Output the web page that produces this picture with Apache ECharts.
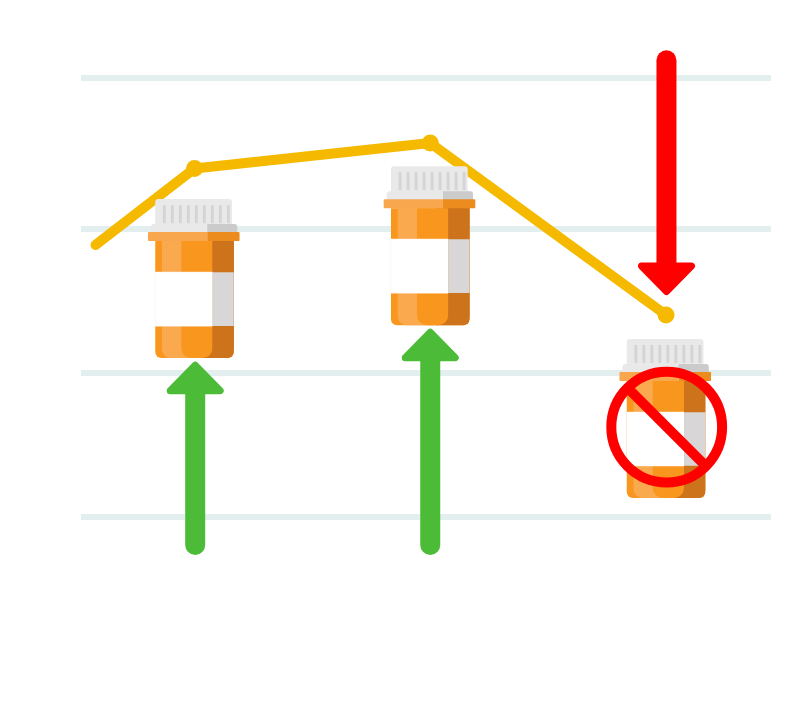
<!DOCTYPE html>
<html>
<head>
<meta charset="utf-8">
<style>html,body{margin:0;padding:0;background:#fff}#c{width:800px;height:701px}</style>
<script src="https://cdn.jsdelivr.net/npm/echarts@6/dist/echarts.min.js"></script>
</head>
<body>
<div id="c"></div>
<script>
const gridValues = [0, 100, 200, 305];
const lineX = [-0.42, 0, 1, 2];
const lineY = [189, 242.1, 259.9, 140.3];
const bottleX = [0, 1, 2];
const bottleBase = [110.4, 133.3, 13.2];
const upArrowX = [0.003, 1];
const upArrowTail = [-26.4, -26.4];
const upArrowTip = [108.6, 131.5];
const downArrowX = [2.002];
const downArrowTail = [324.2];
const downArrowTip = [153.5];
const bannedX = [2.003];
const bannedY = [62.5];

const rect = (x, y, w, h, fill, r) => ({
  type: 'rect',
  shape: { x, y, width: w, height: h, r: r || 0 },
  style: { fill }
});

function bottle(params, api) {
  const p = api.coord([api.value(0), api.value(1)]);
  const x = p[0] - 39.25, b = p[1];
  const kids = [];
  kids.push(rect(x, b - 159, 76.7, 26, '#E9E9EA', [3, 3, 0, 0]));
  for (let i = 0; i < 9; i++) kids.push(rect(x + 7.6 + i * 8, b - 153, 3, 18, '#D6D5D6'));
  kids.push(rect(x - 4.3, b - 134, 86.3, 9, '#E9E9EA', [3, 3, 0, 0]));
  kids.push(rect(x + 52, b - 134, 30, 9, '#CBCBCB', [0, 3, 0, 0]));
  kids.push(rect(x, b - 117, 78.5, 117, '#F9961E', [0, 0, 6, 6]));
  kids.push(rect(x + 45, b - 117, 33.5, 117, '#CC731C', [0, 0, 6, 0]));
  kids.push(rect(x + 6.7, b - 117, 35, 117, '#FAA94F', [0, 0, 0, 9]));
  kids.push(rect(x + 26, b - 117, 31.3, 117, '#F9961E', [0, 0, 10, 10]));
  kids.push(rect(x + 57.3, b - 117, 21.2, 31, '#CC731C'));
  kids.push(rect(x + 57.3, b - 32, 21.2, 24, '#CC731C'));
  kids.push(rect(x - 7.3, b - 126, 59.3, 9, '#F9A74F', [1, 0, 0, 1]));
  kids.push(rect(x + 52, b - 126, 32.3, 9, '#EC8C1F', [0, 1, 1, 0]));
  kids.push(rect(x - 0.3, b - 86.3, 57.6, 54.6, '#FEEFDF'));
  kids.push(rect(x + 0.2, b - 85.8, 57.1, 53.6, '#FFFFFF'));
  kids.push(rect(x + 57.3, b - 85.8, 21.2, 53.6, '#D8D6D7'));
  return { type: 'group', children: kids };
}

function arrow(color, dir) {
  return function (params, api) {
    const x = api.coord([api.value(0), 0])[0];
    const tail = api.coord([0, api.value(1)])[1];
    const tip = api.coord([0, api.value(2)])[1];
    // dir = -1 points up on screen, 1 points down
    const inset = 3.5;
    const headLen = 33.5;
    const half = 29.5;
    const tailEnd = tail + dir * 10;
    const baseY = tip - dir * headLen;
    return {
      type: 'group',
      children: [
        {
          type: 'line',
          shape: { x1: x, y1: tailEnd, x2: x, y2: baseY },
          style: { stroke: color, lineWidth: 20, lineCap: 'round' }
        },
        {
          type: 'polygon',
          shape: { points: [
            [x, tip - dir * (inset + 1)],
            [x + half - inset - 1, baseY + dir * inset],
            [x - half + inset + 1, baseY + dir * inset]
          ] },
          style: { fill: color, stroke: color, lineWidth: inset * 2, lineJoin: 'round' }
        }
      ]
    };
  };
}

function banned(params, api) {
  const p = api.coord([api.value(0), api.value(1)]);
  return {
    type: 'group',
    children: [
      {
        type: 'circle',
        shape: { cx: p[0], cy: p[1], r: 55.4 },
        style: { fill: 'none', stroke: '#FF0000', lineWidth: 10 }
      },
      {
        type: 'line',
        shape: { x1: p[0] - 39.5, y1: p[1] - 39.5, x2: p[0] + 39.5, y2: p[1] + 39.5 },
        style: { stroke: '#FF0000', lineWidth: 10 }
      }
    ]
  };
}

const chart = echarts.init(document.getElementById('c'), null, { renderer: 'canvas' });
chart.setOption({
  animation: false,
  backgroundColor: '#ffffff',
  grid: { left: 81, right: 29, top: 78, height: 439 },
  xAxis: {
    type: 'value', min: -0.4814, max: 2.4454,
    axisLine: { show: false }, axisTick: { show: false },
    axisLabel: { show: false }, splitLine: { show: false }
  },
  yAxis: {
    type: 'value', min: 0, max: 305,
    axisLine: { show: false },
    axisTick: { show: false, customValues: gridValues },
    axisLabel: { show: false, customValues: gridValues },
    splitLine: { show: true, lineStyle: { color: '#E3EFEF', width: 6 } }
  },
  series: [
    {
      type: 'line', z: 2, clip: false, silent: true,
      data: lineX.map((x, i) => ({
        value: [x, lineY[i]],
        symbol: i === 0 ? 'none' : 'circle',
        symbolSize: 17
      })),
      lineStyle: { color: '#F5BA00', width: 10, cap: 'round', join: 'round' },
      itemStyle: { color: '#F5BA00' }
    },
    {
      type: 'custom', z: 3, silent: true,
      data: bottleX.map((x, i) => [x, bottleBase[i]]),
      renderItem: bottle
    },
    {
      type: 'custom', z: 4, silent: true,
      data: upArrowX.map((x, i) => [x, upArrowTail[i], upArrowTip[i]]),
      renderItem: arrow('#4CBB37', -1)
    },
    {
      type: 'custom', z: 4, silent: true,
      data: downArrowX.map((x, i) => [x, downArrowTail[i], downArrowTip[i]]),
      renderItem: arrow('#FF0000', 1)
    },
    {
      type: 'custom', z: 5, silent: true,
      data: bannedX.map((x, i) => [x, bannedY[i]]),
      renderItem: banned
    }
  ]
});
</script>
</body>
</html>
